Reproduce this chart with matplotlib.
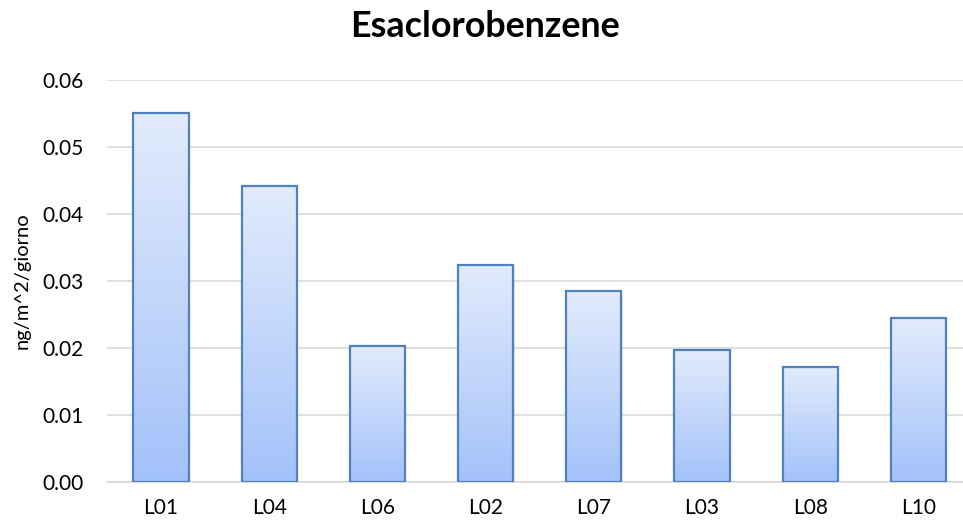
#!/usr/bin/env python3
# -*- coding: utf-8 -*-

import numpy as np
import matplotlib
matplotlib.use('Agg')
import matplotlib.pyplot as plt
from matplotlib.colors import LinearSegmentedColormap

plt.rcParams['font.family'] = ['Lato', 'DejaVu Sans']

# data
stations = ['L01', 'L04', 'L06', 'L02', 'L07', 'L03', 'L08', 'L10']
values = [0.0551, 0.0442, 0.0203, 0.0324, 0.0285, 0.0196, 0.0171, 0.0244]
yticks = [0.00, 0.01, 0.02, 0.03, 0.04, 0.05, 0.06]
title = 'Esaclorobenzene'
ylabel = 'ng/m^2/giorno'

fig = plt.figure(figsize=(9.63, 5.21), dpi=100)
ax = fig.add_axes([0.111, 0.0754, 0.899, 0.771])

x = np.arange(len(stations))
bars = ax.bar(x, values, width=0.51, facecolor='none', edgecolor='#4f81bd',
              linewidth=1.6, zorder=3)

# vertical gradient inside each bar (light on top, darker blue at bottom)
cmap = LinearSegmentedColormap.from_list('grad', ['#a3c2fa', '#e2ebfc'])
grad = np.linspace(0, 1, 256).reshape(-1, 1)
for b in bars:
    bx, bw, bh = b.get_x(), b.get_width(), b.get_height()
    # soft shadow
    ax.bar(bx + bw / 2 + 0.012, bh, width=bw, bottom=-0.0003, color='#000000',
           alpha=0.08, linewidth=0, zorder=1.5)
    im = ax.imshow(grad, extent=[bx, bx + bw, 0, bh], aspect='auto',
                   cmap=cmap, origin='lower', zorder=2)
    im.set_clip_path(b)

ax.set_xlim(-0.5, len(stations) - 0.5)
ax.set_ylim(0, 0.06)
ax.set_yticks(yticks)
ax.set_yticklabels(['%.2f' % t for t in yticks])
ax.set_xticks(x)
ax.set_xticklabels(stations)

ax.grid(axis='y', color='#d9d9d9', linewidth=1.2, zorder=0)
ax.set_axisbelow(True)
for s in ['top', 'right', 'left']:
    ax.spines[s].set_visible(False)
ax.spines['bottom'].set_color('#d9d9d9')
ax.spines['bottom'].set_linewidth(1.2)
ax.tick_params(axis='both', length=0, labelsize=15, colors='#000000')
ax.tick_params(axis='y', pad=17)
ax.tick_params(axis='x', pad=12)

ax.set_ylabel(ylabel, fontsize=14.5)
ax.yaxis.set_label_coords(-0.088, 0.5)
fig.text(0.504, 0.950, title, ha='center', va='center', fontsize=25.8,
         fontweight='bold')

fig.savefig('out.png', dpi=100)
